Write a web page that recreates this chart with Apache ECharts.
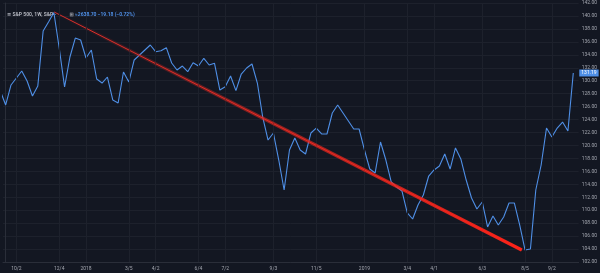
<!DOCTYPE html>
<html>
<head>
<meta charset="utf-8">
<script src="https://cdn.jsdelivr.net/npm/echarts@6/dist/echarts.min.js"></script>
<style>
  html, body { margin: 0; padding: 0; background: #131722; }
  #chart { width: 600px; height: 273px; }
</style>
</head>
<body>
<div id="chart"></div>
<script>
// Weekly closes, week index starts at firstWeek
const firstWeek = -1;
const closes = [
  128.41, 126.25, 129.34, 130.42, 131.50, 129.95, 127.64, 129.18, 137.68, 139.07,
  140.53, 135.05, 129.03, 133.66, 136.59, 136.29, 133.51, 134.74, 130.26, 129.64,
  130.57, 127.02, 126.56, 131.34, 129.80, 133.20, 133.97, 134.74, 135.51, 134.48,
  134.63, 135.10, 132.73, 131.65, 132.27, 131.39, 132.78, 132.27, 133.46, 132.42,
  132.69, 128.56, 129.07, 130.73, 128.46, 131.03, 131.96, 132.58, 129.64, 124.39,
  120.84, 121.92, 117.75, 113.12, 119.30, 121.15, 119.30, 118.68, 121.92, 122.69,
  121.77, 121.77, 125.01, 126.25, 125.01, 123.78, 122.54, 122.54, 119.30, 116.36,
  115.75, 120.53, 117.75, 114.36, 113.58, 112.97, 109.57, 108.64, 110.80, 112.35,
  115.28, 116.21, 116.83, 118.68, 116.36, 119.61, 117.91, 114.66, 111.88, 110.19,
  111.27, 107.41, 109.10, 107.71, 108.95, 111.11, 111.11, 107.71, 103.85, 104.01,
  113.12, 116.98, 122.69, 121.30, 122.69, 123.62, 122.23, 131.19
];
// Trend line endpoints [week, price]
const trendWeeks = [9.06, 96.38];
const trendPrices = [140.61, 103.85];
// Time-axis ticks
const tickWeeks = [2, 10, 15, 23, 28, 36, 41, 50, 58, 67, 75, 80, 89, 97, 102];
const tickLabels = ['10/2', '12/4', '2018', '3/5', '4/2', '6/4', '7/2', '9/3', '11/5', '2019', '3/4', '4/1', '6/3', '8/5', '9/2'];
// Price axis
const priceMin = 102, priceMax = 142, priceStep = 2;

const lineData = closes.map((v, i) => [i + firstWeek, v]);
const trendData = trendWeeks.map((w, i) => [w, trendPrices[i]]);
const gridColor = '#1d212c';
const font = 'Roboto, "DejaVu Sans", sans-serif';

const chart = echarts.init(document.getElementById('chart'), null, { renderer: 'canvas' });
chart.setOption({
  backgroundColor: '#131722',
  animation: false,
  title: {
    left: 2, top: 1,
    text: '{a|≡ S&P 500, 1W, S&P ·}   {b|⊞}{c| ≈2638.70 −19.18 (−0.72%)}',
    textStyle: {
      fontFamily: font,
      rich: {
        a: { color: '#b2b5be', fontSize: 5, fontFamily: font },
        b: { color: '#b2b5be', fontSize: 5, fontFamily: font },
        c: { color: '#4f8fe6', fontSize: 5, fontFamily: font }
      }
    }
  },
  grid: { left: 0, right: 15, top: 3, bottom: 11, containLabel: false },
  xAxis: {
    type: 'value',
    min: -0.5, max: 107, interval: 0.5,
    axisLine: { show: true, lineStyle: { color: '#2a2e39' } },
    axisTick: { show: false },
    splitLine: { show: false },
    axisLabel: {
      color: '#a3a6af', fontSize: 5, fontFamily: font, margin: 4,
      formatter: (val) => { const i = tickWeeks.indexOf(val); return i >= 0 ? tickLabels[i] : ''; }
    }
  },
  yAxis: {
    type: 'value', position: 'right',
    min: priceMin, max: priceMax, interval: priceStep,
    axisLine: { show: true, lineStyle: { color: '#2a2e39' } },
    axisTick: { show: false },
    splitLine: { show: true, lineStyle: { color: gridColor, width: 1 } },
    axisLabel: {
      color: '#a3a6af', fontSize: 5, fontFamily: font, margin: 3,
      formatter: (v) => v.toFixed(2)
    }
  },
  series: [
    {
      type: 'line', z: 1, data: [], silent: true,
      markLine: {
        silent: true, symbol: ['none', 'none'], label: { show: false },
        lineStyle: { color: gridColor, width: 1, type: 'solid' },
        data: tickWeeks.map(w => ({ xAxis: w }))
      }
    },
    {
      type: 'line', z: 3, data: lineData, showSymbol: false, symbol: 'none',
      lineStyle: { color: '#4f8fe6', width: 1.1 },
      endLabel: {
        show: true, distance: 6,
        formatter: (p) => p.value[1].toFixed(2),
        color: '#ffffff', backgroundColor: '#4f8fe6',
        fontSize: 5, fontFamily: font, padding: [1, 2]
      }
    },
    {
      type: 'line', z: 4, data: trendData, showSymbol: false, symbol: 'none',
      lineStyle: { color: '#d8302c', width: 1 }
    },
    {
      type: 'line', z: 5, data: trendData, showSymbol: false, symbol: 'none',
      lineStyle: {
        width: 3.5,
        color: new echarts.graphic.LinearGradient(0, 0, 1, 0, [
          { offset: 0, color: 'rgba(240,40,30,0)' },
          { offset: 0.45, color: 'rgba(240,40,30,0.55)' },
          { offset: 1, color: 'rgba(255,35,25,1)' }
        ])
      }
    }
  ]
});
</script>
</body>
</html>
